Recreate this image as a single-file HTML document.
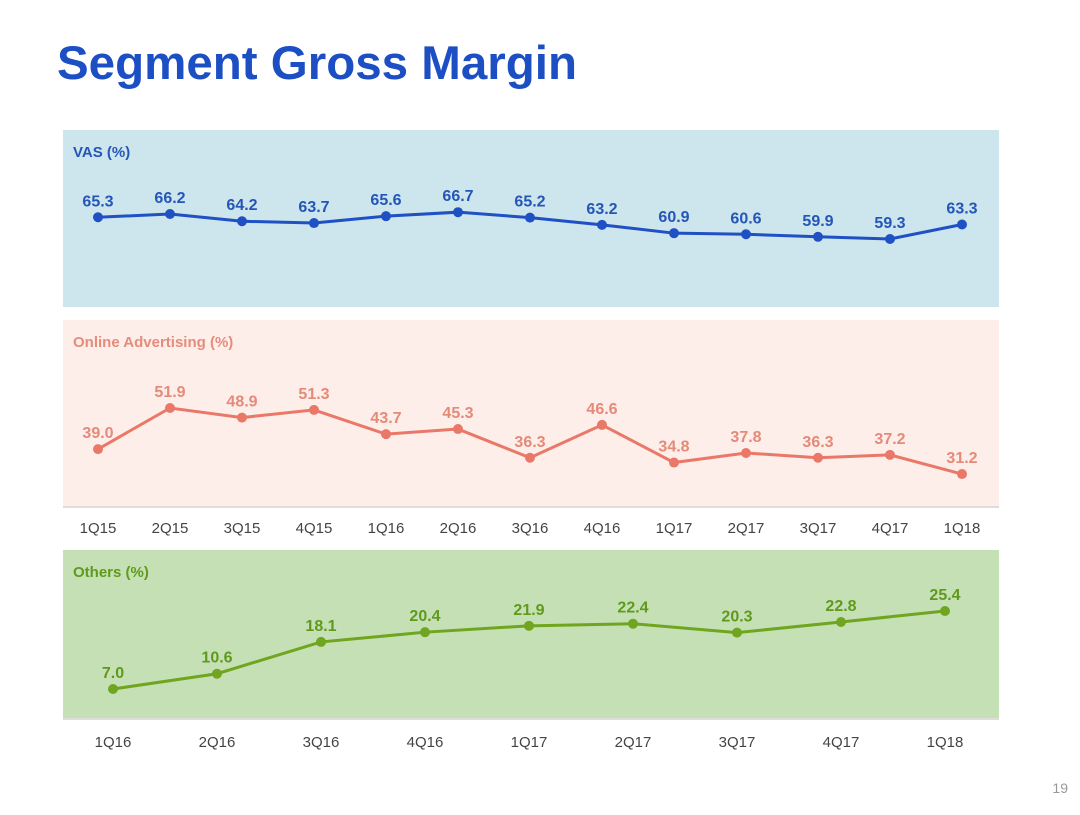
<!DOCTYPE html>
<html><head><meta charset="utf-8"><style>
body{margin:0;background:#fff;width:1080px;height:810px;overflow:hidden;font-family:"Liberation Sans",sans-serif}
</style></head><body>
<svg width="1080" height="810" xmlns="http://www.w3.org/2000/svg" font-family="Liberation Sans, sans-serif" id="chart">
<text x="57" y="79" font-size="47.5" font-weight="bold" fill="#1d4fc4">Segment Gross Margin</text>
<rect x="63" y="130" width="936" height="177" fill="#cde5ec"/>
<rect x="63" y="320" width="936" height="187" fill="#fdeeea"/>
<line x1="63" y1="507" x2="999" y2="507" stroke="#ddd" stroke-width="2"/>
<rect x="63" y="550" width="936" height="168" fill="#c6e0b5"/>
<line x1="63" y1="719" x2="999" y2="719" stroke="#ddd" stroke-width="2"/>
<text x="73" y="157" font-size="15" font-weight="bold" fill="#2456b8">VAS (%)</text>
<text x="73" y="347" font-size="15" font-weight="bold" fill="#e58c7c">Online Advertising (%)</text>
<text x="73" y="577" font-size="15" font-weight="bold" fill="#5f9a1c">Others (%)</text>
<text x="1068" y="793" font-size="14" fill="#999" text-anchor="end">19</text>
<g id="marks"></g>
</svg>
<script>
const catA=["1Q15","2Q15","3Q15","4Q15","1Q16","2Q16","3Q16","4Q16","1Q17","2Q17","3Q17","4Q17","1Q18"];
const vasValues=[65.3,66.2,64.2,63.7,65.6,66.7,65.2,63.2,60.9,60.6,59.9,59.3,63.3];
const adValues=[39.0,51.9,48.9,51.3,43.7,45.3,36.3,46.6,34.8,37.8,36.3,37.2,31.2];
const catB=["1Q16","2Q16","3Q16","4Q16","1Q17","2Q17","3Q17","4Q17","1Q18"];
const othersValues=[7.0,10.6,18.1,20.4,21.9,22.4,20.3,22.8,25.4];

const NS="http://www.w3.org/2000/svg";
const g=document.getElementById("marks");
function mk(t,a){const e=document.createElementNS(NS,t);for(const k in a)e.setAttribute(k,a[k]);g.appendChild(e);return e;}
const xA=i=>98+i*72, xB=i=>113+i*104;
const yVas=v=>214+(66.2-v)*3.62;
const yAd=v=>408+(51.9-v)*3.19;
const yOt=v=>689-(v-7.0)*4.24;
function series(vals,xf,yf,color,lblColor,name){
  const pts=vals.map((v,i)=>xf(i)+","+yf(v)).join(" ");
  const pl=mk("polyline",{points:pts,fill:"none",stroke:color,"stroke-width":3});
  
  
  vals.forEach((v,i)=>{
    const c=mk("circle",{cx:xf(i),cy:yf(v),r:5,fill:color});
    
    
    const t=mk("text",{x:xf(i),y:yf(v)-11,"font-size":16,"font-weight":"bold",fill:lblColor,"text-anchor":"middle"});
    t.textContent=v.toFixed(1);
    
    
  });
}
series(vasValues,xA,yVas,"#1f50c4","#2456b8","vas");
series(adValues,xA,yAd,"#ea7868","#e58a78","online-ad");
series(othersValues,xB,yOt,"#6fa51f","#5f9a1c","others");
catA.forEach((c,i)=>{
  const t=mk("text",{x:xA(i),y:533,"font-size":15,fill:"#444","text-anchor":"middle"});
  t.textContent=c;
  
  
});
catB.forEach((c,i)=>{
  const t=mk("text",{x:xB(i),y:747,"font-size":15,fill:"#444","text-anchor":"middle"});
  t.textContent=c;
  
  
});
</script>
</body></html>
